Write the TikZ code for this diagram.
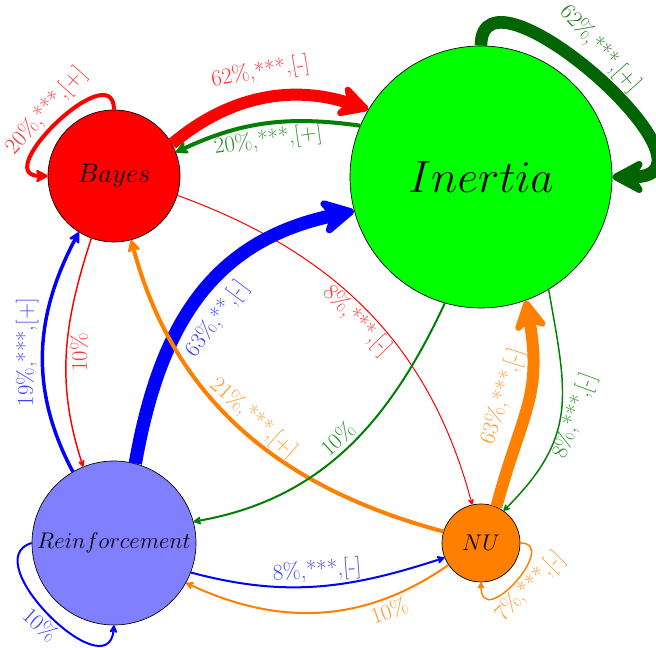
\RequirePackage{fix-cm}
\documentclass[tikz,border=0pt]{standalone}
\usetikzlibrary{arrows.meta}
\definecolor{cred}{RGB}{255,0,0}
\definecolor{cgreen}{RGB}{0,128,0}
\definecolor{cdgreen}{RGB}{0,100,0}
\definecolor{cblue}{RGB}{0,0,255}
\definecolor{corange}{RGB}{255,128,0}
\definecolor{cnode}{RGB}{0,255,0}
\definecolor{cviolet}{RGB}{128,128,255}
\colorlet{lred}{cred!80!white}
\colorlet{lgreen}{cgreen!85!white}
\colorlet{ldgreen}{cdgreen!85!white}
\colorlet{lblue}{cblue!75!white}
\colorlet{lorange}{corange!80!white}
\begin{document}
\begin{tikzpicture}[x=0.75pt,y=0.75pt,
  vtx/.style={circle,draw=black,line width=0.5pt,inner sep=0pt},
  arr/.style={-{Stealth[round,length=3pt 2.8,width=3pt 3]}},
  lbl/.style={font=\fontsize{17}{20}\selectfont,inner sep=2pt}]
\useasboundingbox (0,0) rectangle (656,648);
\node[vtx,fill=cred,minimum size=99pt] (B) at (114,472) {\fontsize{20}{24}\selectfont $Bayes$};
\node[vtx,fill=cnode,minimum size=196.5pt] (I) at (481,471) {\fontsize{34}{40}\selectfont $Inertia$};
\node[vtx,fill=cviolet,minimum size=123pt] (R) at (114,105) {\fontsize{17}{20}\selectfont $Reinforcement$};
\node[vtx,fill=corange,minimum size=58.5pt] (N) at (481,105) {\fontsize{17}{20}\selectfont $NU$};
% Bayes -> Inertia
\draw[arr,cred,line width=9pt] (B.29) to[out=40,in=162]
  node[lbl,sloped,above=5pt,pos=0.5,text=lred] (l1) {62\%,***,[-]} (I.149);
% Inertia -> Bayes
\draw[arr,cgreen,line width=3pt] (I.157) to[out=172,in=25]
  node[lbl,sloped,below=1pt,text=lgreen] (l2) {20\%,***,[+]} (B.21);
% Bayes loop
\draw[arr,cred,line width=3pt] (B.90) .. controls +(0,56) and +(-60,0) ..
  node[lbl,pos=0.5,rotate=48,anchor=south,text=lred] (l3) {20\%,***,[+]} (B.180);
% Inertia loop
\draw[arr,cdgreen,line width=9.5pt] (I.90) .. controls +(0,95) and +(125,0) ..
  node[lbl,pos=0.46,rotate=-48,anchor=south,inner sep=5pt,text=ldgreen] (l4) {62\%,***,[+]} (I.0);
% Bayes -> NU
\draw[arr,cred,line width=0.75pt] (B.-17) to[out=-20,in=105]
  node[lbl,sloped,below,pos=0.5,text=lred] (l5) {8\%,***,[-]} (N.103);
% Bayes -> Reinforcement
\draw[arr,cred,line width=1.1pt] (B.250) to[out=252,in=108]
  node[lbl,pos=0.5,rotate=90,anchor=north,text=lred] (l6) {10\%} (R.112);
% Reinforcement -> Bayes
\draw[arr,cblue,line width=2.6pt] (R.120) to[out=118,in=242]
  node[lbl,pos=0.5,rotate=90,anchor=south,text=lblue] (l7) {19\%,***,[+]} (B.238);
% Reinforcement -> Inertia
\draw[arr,cblue,line width=10pt] (R.75) to[out=80,in=192,looseness=1.1]
  node[lbl,sloped,below=5pt,pos=0.47,text=lblue] (l8) {63\%,**,[-]} (I.195);
% NU -> Bayes
\draw[arr,corange,line width=3pt] (N.163) to[out=165,in=285]
  node[lbl,sloped,above,pos=0.5,text=lorange] (l9) {21\%,***,[+]} (B.285);
% Inertia -> Reinforcement
\draw[arr,cgreen,line width=1.5pt] (I.254) to[out=245,in=10]
  node[lbl,sloped,above,pos=0.5,text=lgreen] (l10) {10\%} (R.15);
% Inertia -> NU
\draw[arr,cgreen,line width=1.1pt] (I.-59) to[out=-80,in=45,looseness=1.2]
  node[lbl,pos=0.5,rotate=70,anchor=north,text=lgreen] (l11) {8\%,***,[-]} (N.55);
% NU -> Inertia
\draw[arr,corange,line width=9pt] (N.67) to[out=75,in=280,looseness=1.2]
  node[lbl,pos=0.5,rotate=72,anchor=south,inner sep=6pt,text=lorange] (l12) {63\%,***,[-]} (I.290);
% Reinforcement -> NU
\draw[arr,cblue,line width=1.5pt] (R.-21) to[out=-15,in=198]
  node[lbl,sloped,above,pos=0.5,text=lblue] (l13) {8\%,***,[-]} (N.202);
% NU -> Reinforcement
\draw[arr,corange,line width=1.5pt] (N.214) to[out=215,in=-25]
  node[lbl,sloped,below,pos=0.25,text=lorange] (l14) {10\%} (R.-29);
% NU loop
\draw[arr,corange,line width=1.1pt] (N.0) .. controls +(40,0) and +(0,-50) ..
  node[lbl,pos=0.45,rotate=45,anchor=north,text=lorange] (l15) {7\%,***,[-]} (N.270);
% Reinforcement loop
\draw[arr,cblue,line width=1.5pt] (R.180) .. controls +(-57,-17) and +(-6,-65) ..
  node[lbl,pos=0.5,rotate=-42,anchor=north,text=lblue] (l16) {10\%} (R.270);
\end{tikzpicture}
\end{document}
